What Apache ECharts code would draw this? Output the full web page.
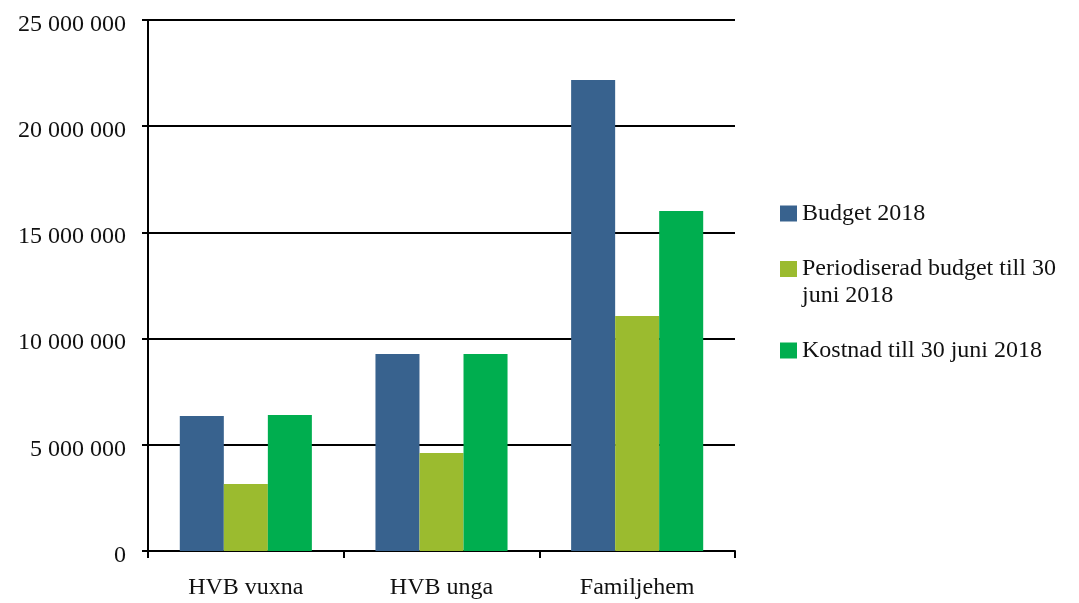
<!DOCTYPE html>
<html><head><meta charset="utf-8">
<script src="https://cdn.jsdelivr.net/npm/echarts@6/dist/echarts.min.js"></script>
<style>html,body{margin:0;padding:0;background:#fff}#c{width:1079px;height:603px}</style>
</head><body><div id="c"></div>
<script>
const categories = ['HVB vuxna', 'HVB unga', 'Familjehem'];
const seriesNames = ['Budget 2018', 'Periodiserad budget till 30 juni 2018', 'Kostnad till 30 juni 2018'];
const budget2018 = [6360000, 9270000, 22170000];
const periodiserad = [3150000, 4610000, 11060000];
const kostnad = [6400000, 9270000, 16010000];
const colors = ['#38628E', '#9BBB2F', '#00AE4F'];
const font = "'Liberation Serif', 'DejaVu Serif', serif";
const fs = 24;
const fmt = v => '{n|' + String(v).replace(/\B(?=(\d{3})+(?!\d))/g, ' ') + '}';
const legendText = {fontFamily: font, fontSize: fs, color: '#111', lineHeight: 27};
const mkLegend = (name, top, extra) => Object.assign({
  orient: 'vertical', left: 780, top: top, padding: 0, itemWidth: 17, itemHeight: 16,
  icon: 'rect', textStyle: legendText, data: [name]
}, extra || {});
const chart = echarts.init(document.getElementById('c'));
chart.setOption({
  animation: false,
  textStyle: {fontFamily: font},
  grid: {left: 148, right: 344, top: 20, bottom: 52},
  legend: [
    mkLegend(seriesNames[0], 200),
    mkLegend(seriesNames[1], 255, {
      icon: 'path://M0,0H17V16H0Z M0,42L17,42', itemHeight: 42,
      formatter: () => 'Periodiserad budget till 30\njuni 2018'
    }),
    mkLegend(seriesNames[2], 337)
  ],
  xAxis: {
    type: 'category', data: categories,
    axisLine: {lineStyle: {color: '#000', width: 2}},
    axisTick: {show: true, length: 7, lineStyle: {color: '#000', width: 2}},
    axisLabel: {fontFamily: font, fontSize: fs, color: '#111', margin: 25}
  },
  yAxis: {
    type: 'value', min: 0, max: 25000000, interval: 5000000,
    axisLine: {show: true, lineStyle: {color: '#000', width: 2}},
    axisTick: {show: true, length: 6, lineStyle: {color: '#000', width: 2}},
    splitLine: {lineStyle: {color: '#000', width: 2}},
    axisLabel: {
      fontFamily: font, fontSize: fs, color: '#111', margin: 22, formatter: fmt,
      rich: {n: {fontFamily: font, fontSize: fs, color: '#111', padding: [9, 0, 0, 0]}}
    }
  },
  series: [
    {name: seriesNames[0], type: 'bar', data: budget2018, barGap: '0%', barCategoryGap: '32.5%', itemStyle: {color: colors[0]}},
    {name: seriesNames[1], type: 'bar', data: periodiserad, itemStyle: {color: colors[1]}},
    {name: seriesNames[2], type: 'bar', data: kostnad, itemStyle: {color: colors[2]}}
  ]
});
</script></body></html>
